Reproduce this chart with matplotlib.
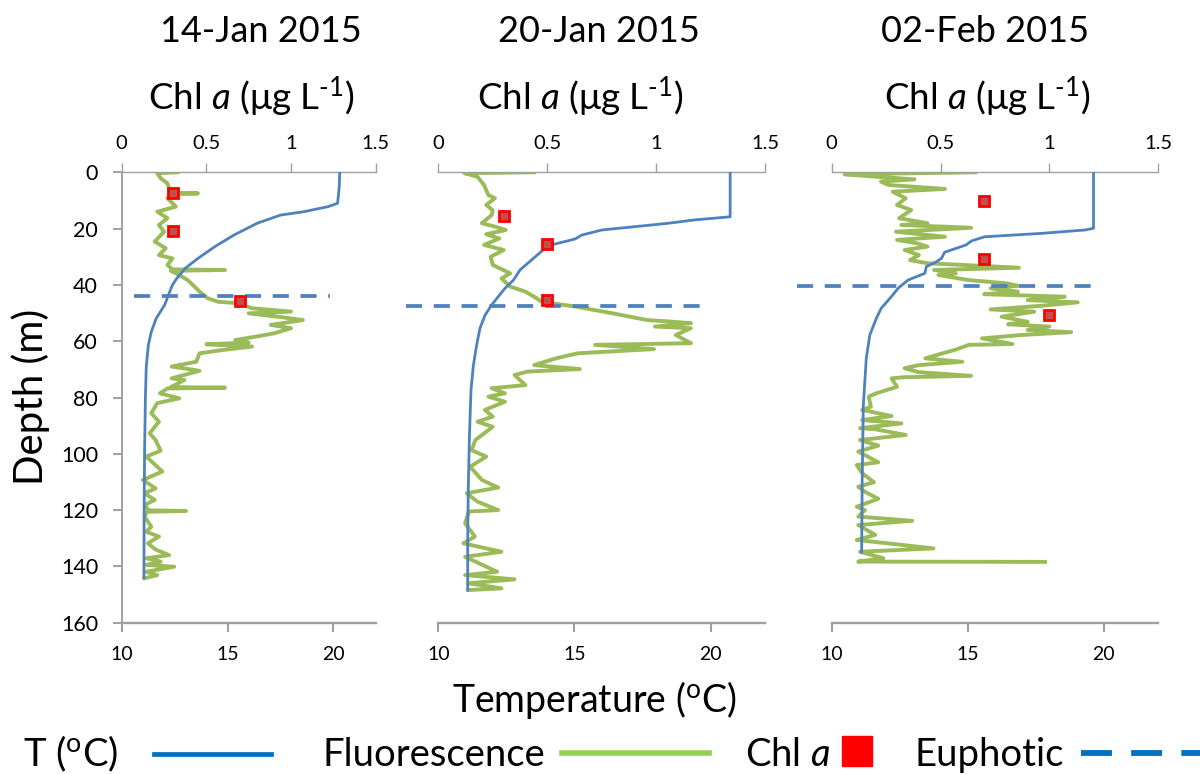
import matplotlib
matplotlib.use('Agg')
import matplotlib.pyplot as plt
from matplotlib.lines import Line2D
from matplotlib.patches import Rectangle

plt.rcParams['font.family'] = ['Lato', 'DejaVu Sans']
plt.rcParams['mathtext.fontset'] = 'custom'
plt.rcParams['mathtext.rm'] = 'Lato'
plt.rcParams['mathtext.it'] = 'Lato:italic'
plt.rcParams['mathtext.bf'] = 'Lato:bold'

# ---------------- data ----------------
titles = ['14-Jan 2015', '20-Jan 2015', '02-Feb 2015']

p1_temp_depth = [0, 5, 11, 12.2, 14, 15.2, 18.1, 22.3, 26.4, 30.6, 34.1, 37.7, 40, 42.4, 47.1, 51.9,
                 56.6, 61.3, 69, 80, 100, 120, 144]
p1_temp = [20.3, 20.28, 20.2, 19.75, 18.6, 17.5, 16.4, 15.3, 14.4, 13.6, 13.0, 12.6, 12.4, 12.27, 12.03,
           11.63, 11.4, 11.26, 11.16, 11.12, 11.08, 11.06, 11.05]
p1_fl_depth = [0, 0.3, 2.1, 3.9, 5.7, 7.3, 7.5, 7.8, 9.2, 12.2, 14, 16.3, 18.7, 21.1, 24.6, 27, 29.4, 30.6,
               32.9, 34.5, 34.7, 35.0, 36.5, 38.3, 40.6, 42.4, 44.8, 46, 46.5, 48.3, 49.5, 50.1, 51.5, 52.5,
               54.2, 55.4, 57.2, 58.5, 59.6, 60.5, 61.1, 61.9, 63.1, 64.3, 67.3, 69, 70.5, 73.2, 73.8, 76.3,
               76.5, 76.8, 78.5, 80.3, 82, 85.6, 88.6, 92.7, 95.1, 98.9, 101, 103.5, 106.3, 109.3, 112.3,
               114, 116.4, 118.2, 120.1, 120.3, 120.6, 122.3, 125.9, 127.7, 129.4, 131.8, 134, 136, 137.1,
               138.3, 139.5, 140.1, 141.9, 143.1, 144.2]
p1_fl = [0.33, 0.21, 0.23, 0.27, 0.28, 0.29, 0.45, 0.29, 0.27, 0.32, 0.21, 0.27, 0.22, 0.25, 0.195, 0.26,
         0.22, 0.30, 0.27, 0.30, 0.61, 0.29, 0.34, 0.39, 0.43, 0.46, 0.51, 0.57, 0.69, 0.77, 1.0, 0.75, 0.95,
         1.07, 0.88, 1.0, 0.90, 0.78, 0.67, 0.75, 0.50, 0.77, 0.60, 0.46, 0.44, 0.295, 0.46, 0.295, 0.37,
         0.29, 0.61, 0.27, 0.226, 0.34, 0.21, 0.175, 0.22, 0.165, 0.20, 0.23, 0.145, 0.19, 0.24, 0.125,
         0.20, 0.135, 0.195, 0.135, 0.16, 0.38, 0.15, 0.135, 0.175, 0.145, 0.22, 0.155, 0.20, 0.28, 0.145,
         0.23, 0.145, 0.31, 0.145, 0.21, 0.135]
p1_chl_depth = [7.5, 20.7, 45.7]
p1_chl = [0.30, 0.30, 0.70]

p2_temp_depth = [0, 15.8, 16.9, 18.1, 19.3, 20.5, 22.3, 23.7, 25.8, 27.6, 31.1, 34.7, 38.3, 41.2, 44.2,
                 47.1, 50.7, 55.4, 61.3, 68.5, 77.3, 95, 112.9, 130.6, 148.4]
p2_temp = [20.72, 20.72, 19.43, 18.45, 17.23, 16.0, 15.27, 15.02, 14.15, 13.85, 13.43, 13.0, 12.76, 12.45,
           12.2, 11.96, 11.72, 11.53, 11.41, 11.29, 11.2, 11.14, 11.1, 11.08, 11.08]
p2_fl_depth = [0, 0.3, 1.6, 4.5, 8.1, 9.2, 11.6, 13.5, 15.2, 18.1, 19.5, 20.5, 22, 23.5, 25.8, 27.6, 30,
               32.9, 35.9, 37.7, 40.6, 42.4, 44.2, 46, 47.7, 50.1, 52.5, 53, 53.6, 54.8, 55.4, 57.8, 60.7,
               61.3, 62.8, 64.3, 66.1, 68.5, 69.9, 70.8, 72, 75.6, 76.7, 78.5, 79.7, 81.5, 84.4, 86.8, 88.6,
               90.4, 95.1, 98.7, 101, 104.6, 109.3, 112, 114, 117, 120, 120.5, 124.7, 129.4, 131.8, 134.8,
               136.6, 141.9, 143.1, 144.6, 146, 147.8, 148.4]
p2_fl = [0.44, 0.12, 0.18, 0.21, 0.23, 0.26, 0.22, 0.25, 0.245, 0.20, 0.27, 0.31, 0.22, 0.28, 0.21, 0.30,
         0.24, 0.25, 0.33, 0.29, 0.33, 0.40, 0.44, 0.475, 0.63, 0.80, 0.96, 1.06, 1.16, 0.995, 1.16, 1.09,
         1.16, 0.72, 0.99, 0.64, 0.54, 0.44, 0.65, 0.41, 0.35, 0.40, 0.245, 0.306, 0.23, 0.306, 0.214, 0.25,
         0.18, 0.25, 0.17, 0.153, 0.22, 0.146, 0.20, 0.275, 0.13, 0.18, 0.275, 0.14, 0.123, 0.168, 0.115,
         0.29, 0.123, 0.27, 0.123, 0.35, 0.138, 0.29, 0.138]
p2_chl_depth = [15.4, 25.6, 45.4]
p2_chl = [0.30, 0.50, 0.50]

p3_temp_depth = [0, 19.9, 20.5, 21.7, 22.9, 24.4, 25.8, 28.4, 30.6, 31.8, 33.5, 35.9, 38.3, 41.2, 44.2,
                 48.3, 51.9, 57.8, 66.1, 73.8, 83.3, 110, 135]
p3_temp = [19.62, 19.62, 19.3, 17.7, 15.62, 15.13, 14.94, 14.15, 14.03, 13.84, 13.48, 13.42, 12.8, 12.44,
           12.19, 11.82, 11.64, 11.4, 11.27, 11.22, 11.16, 11.12, 11.1]
p3_fl_depth = [0, 0.7, 1.6, 2.5, 3.3, 4.5, 5.9, 6.9, 9.2, 11.6, 13.4, 16.3, 18.1, 18.7, 19.7, 21.1, 22.9,
               24.0, 25.2, 26.4, 27.6, 29.4, 31.2, 32.3, 33.9, 34.7, 35.9, 36.5, 38.3, 39.4, 40.3, 41.2,
               42.4, 43.3, 44.2, 45.4, 46.2, 47.5, 48.7, 49.5, 51.3, 53.1, 54, 54.8, 56, 56.8, 57.8, 59, 61,
               61.3, 63.1, 64.5, 66.1, 67.3, 68.5, 69.6, 71, 72.3, 72.8, 73.2, 76.2, 78.5, 79.7, 83.3, 84.4,
               86.6, 88, 89.2, 90.9, 91.3, 93.3, 95.1, 97.1, 99.2, 103, 104, 106.9, 110.1, 111.7, 113.5, 116,
               118.8, 120, 122.3, 123.8, 125.3, 128.8, 130.6, 133.6, 134.8, 137.1, 138.3, 138.4]
p3_fl = [0.66, 0.06, 0.21, 0.38, 0.226, 0.26, 0.52, 0.28, 0.34, 0.30, 0.365, 0.31, 0.44, 0.32, 0.64, 0.295,
         0.52, 0.30, 0.39, 0.44, 0.335, 0.40, 0.36, 0.44, 0.86, 0.47, 0.57, 0.49, 0.63, 0.80, 0.855, 0.73,
         0.855, 0.70, 1.07, 0.90, 1.13, 0.95, 0.73, 0.93, 0.78, 0.90, 0.81, 1.0, 0.90, 1.10, 0.87, 0.69,
         0.83, 0.63, 0.565, 0.50, 0.43, 0.60, 0.40, 0.335, 0.40, 0.64, 0.33, 0.275, 0.30, 0.205, 0.17, 0.18,
         0.14, 0.275, 0.14, 0.32, 0.13, 0.20, 0.34, 0.13, 0.214, 0.122, 0.214, 0.115, 0.14, 0.194, 0.122,
         0.153, 0.214, 0.115, 0.153, 0.122, 0.37, 0.122, 0.20, 0.115, 0.467, 0.13, 0.237, 0.122, 0.98]
p3_chl_depth = [10.2, 30.7, 50.7]
p3_chl = [0.70, 0.70, 1.00]

euphotic_depth = [43.8, 47.4, 40.3]
euphotic_x0 = [0.07, -0.148, -0.16]
euphotic_x1 = [1.23, 1.21, 1.207]

temp_ticks = [10, 15, 20]
chl_ticks = [0, 0.5, 1, 1.5]
chl_ticklabels = ['0', '0.5', '1', '1.5']
depth_ticks = [0, 20, 40, 60, 80, 100, 120, 140, 160]

# ---------------- layout ----------------
W, H = 1200, 774
fig = plt.figure(figsize=(12, 7.74), dpi=100)


def fx(px):
    return px / W


def fy(py):
    return 1 - py / H


panel_px = [(121.7, 375.7), (438.3, 765.0), (831.7, 1158.3)]
top_px, bot_px = 172.3, 622.7
title_x = [261, 598.5, 985.5]
chl_label_x = [251, 580, 986.7]

T_COL = '#4F81BD'
F_COL = '#9BBB59'
SPINE = '#A0A0A0'

temps = [(p1_temp_depth, p1_temp), (p2_temp_depth, p2_temp), (p3_temp_depth, p3_temp)]
fls = [(p1_fl_depth, p1_fl), (p2_fl_depth, p2_fl), (p3_fl_depth, p3_fl)]
chls = [(p1_chl_depth, p1_chl), (p2_chl_depth, p2_chl), (p3_chl_depth, p3_chl)]

for i in range(3):
    l, r = panel_px[i]
    rect = [fx(l), fy(bot_px), (r - l) / W, (bot_px - top_px) / H]
    ax_f = fig.add_axes(rect, zorder=1)
    ax_t = fig.add_axes(rect, zorder=2, sharey=ax_f)
    ax_c = fig.add_axes(rect, zorder=3, sharey=ax_f)
    for a in (ax_f, ax_t, ax_c):
        a.patch.set_visible(False)
        for s in a.spines.values():
            s.set_visible(False)
    ax_f.set_ylim(160, 0)

    # fluorescence (top axis)
    ax_f.set_xlim(0, 1.5)
    ax_f.plot(fls[i][1], fls[i][0], color=F_COL, lw=2.8, solid_joinstyle='round')
    ax_f.xaxis.tick_top()
    ax_f.set_xticks(chl_ticks)
    ax_f.set_xticklabels(chl_ticklabels)
    ax_f.spines['top'].set_visible(True)
    ax_f.spines['top'].set_color(SPINE)
    ax_f.spines['top'].set_linewidth(1.0)
    ax_f.tick_params(axis='x', top=True, bottom=False, direction='out', length=6.5, width=1.0,
                     color=SPINE, labelsize=14.5, pad=7.8)
    ax_f.tick_params(axis='y', left=False, labelleft=False)

    # temperature (bottom axis)
    ax_t.set_xlim(10, 22)
    ax_t.plot(temps[i][1], temps[i][0], color=T_COL, lw=2.0)
    ax_t.set_xticks(temp_ticks)
    ax_t.spines['bottom'].set_visible(True)
    ax_t.spines['bottom'].set_color(SPINE)
    ax_t.spines['bottom'].set_linewidth(1.7)
    ax_t.tick_params(axis='x', direction='out', length=6.5, width=1.5, color=SPINE,
                     labelsize=14, pad=10.5)
    if i == 0:
        ax_t.spines['left'].set_visible(True)
        ax_t.spines['left'].set_color(SPINE)
        ax_t.spines['left'].set_linewidth(1.4)
        ax_t.set_yticks(depth_ticks)
        ax_t.tick_params(axis='y', direction='out', length=6.5, width=1.4, color=SPINE,
                         labelsize=15.5, pad=10.5)
    else:
        ax_t.tick_params(axis='y', left=False, labelleft=False)

    # chl a points and euphotic depth (top scale)
    ax_c.set_xlim(0, 1.5)
    ax_c.plot([euphotic_x0[i], euphotic_x1[i]], [euphotic_depth[i], euphotic_depth[i]],
              color=T_COL, lw=2.7, dashes=(4.3, 3.1), dash_capstyle='butt', clip_on=False)
    ax_c.plot(chls[i][1], chls[i][0], ls='none', marker='s', markersize=7.2,
              markerfacecolor='#C0504D', markeredgecolor='#FF0000', markeredgewidth=2.0)
    ax_c.set_xticks([])
    ax_c.tick_params(axis='y', left=False, labelleft=False)

    fig.text(fx(title_x[i]), fy(42), titles[i], ha='center', va='baseline', fontsize=26)
    fig.text(fx(chl_label_x[i]), fy(110), r'Chl $\mathit{a}$ (μg L$^{\text{-1}}$)',
             ha='center', va='baseline', fontsize=26.5)

fig.text(fx(31), fy(397), 'Depth (m)', rotation=90, ha='center', va='center', fontsize=29)
fig.text(fx(594), fy(712), r'Temperature ($^{\mathrm{o}}$C)', ha='center', va='baseline', fontsize=27)

# ---------------- legend row ----------------
ly = 766
fig.text(fx(23), fy(ly), r'T ($^{\mathrm{o}}$C)', ha='left', va='baseline', fontsize=27.5)
fig.add_artist(Line2D([fx(154), fx(271)], [fy(754), fy(754)], color='#0070C0', lw=3.4,
                      transform=fig.transFigure))
fig.text(fx(322), fy(ly), 'Fluorescence', ha='left', va='baseline', fontsize=27.5)
fig.add_artist(Line2D([fx(562), fx(709)], [fy(753), fy(753)], color='#92D050', lw=4.0,
                      transform=fig.transFigure))
fig.text(fx(745), fy(ly), r'Chl $\mathit{a}$', ha='left', va='baseline', fontsize=27.5)
fig.add_artist(Rectangle((fx(842), fy(766)), 30 / W, 30 / H, color='#FF0000',
                         transform=fig.transFigure))
fig.text(fx(915), fy(ly), 'Euphotic', ha='left', va='baseline', fontsize=27.5)
fig.add_artist(Line2D([fx(1081), fx(1205)], [fy(753), fy(753)], color='#0070C0', lw=4.2,
                      dashes=(5.3, 3.3), dash_capstyle='butt', transform=fig.transFigure))

fig.savefig('out.png', dpi=100)
